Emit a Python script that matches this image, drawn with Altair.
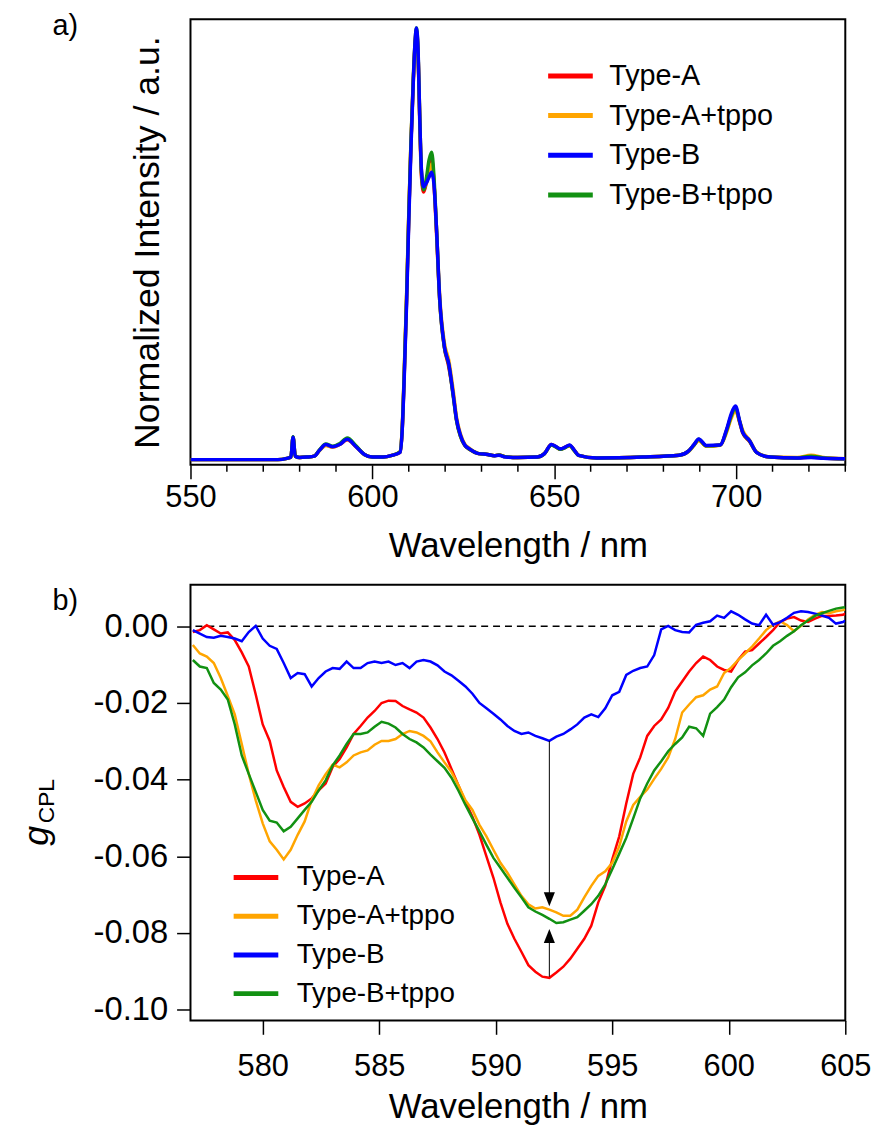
import altair as alt
import pandas as pd

FONT = "Liberation Sans"
series = ["Type-A", "Type-A+tppo", "Type-B", "Type-B+tppo"]
colors = ["#FF0000", "#FFA500", "#0000FF", "#129112"]

# ---------------- panel a: normalized PL spectra ----------------
wl_a = [550, 574, 576.5, 577.6, 578.2, 578.8, 580.0, 582.0, 584.0, 585.5,
        587.2, 589.1, 591.0, 593.1, 595.5, 597.8, 600.0, 603.0, 605.4, 607.6,
        608.2, 608.7, 609.4, 610.0, 610.6, 611.25, 611.75, 612.1, 612.6, 613.0,
        613.5, 614.1, 614.8, 615.6, 616.3, 616.9, 617.6, 618.5, 619.8, 621.0,
        622.3, 623.1, 624.2, 625.4, 626.7, 629.2, 631.7, 633.5, 634.8, 636.5,
        640.0, 645.4, 647.3, 649.2, 650.5, 651.7, 653.0, 654.2, 655.5, 656.7,
        661.7, 674.3, 684.3, 686.8, 688.5, 689.7, 691.8, 695.6, 697.4, 698.6,
        699.8, 701.0, 701.8, 703.7, 705.6, 709.3, 716.8, 720.6, 724.0, 730.0]
int_A = [0.0, 0.0, 0.003, 0.006, 0.052, 0.008, 0.005, 0.006, 0.008, 0.022,
         0.034, 0.029, 0.035, 0.046, 0.030, 0.012, 0.006, 0.006, 0.010, 0.017,
         0.07, 0.18, 0.37, 0.56, 0.73, 0.88, 0.965, 0.995, 0.93, 0.79,
         0.655, 0.62, 0.64, 0.68, 0.697, 0.645, 0.53, 0.37, 0.26, 0.215,
         0.146, 0.093, 0.055, 0.033, 0.024, 0.014, 0.012, 0.009, 0.011, 0.007,
         0.005, 0.006, 0.014, 0.035, 0.030, 0.024, 0.029, 0.033, 0.022, 0.010,
         0.004, 0.006, 0.010, 0.019, 0.035, 0.046, 0.032, 0.034, 0.068, 0.100,
         0.118, 0.085, 0.062, 0.042, 0.017, 0.006, 0.004, 0.006, 0.004, 0.002]
int_A_tppo = [0.0, 0.0, 0.003, 0.006, 0.050, 0.008, 0.005, 0.006, 0.008, 0.021,
              0.033, 0.029, 0.036, 0.047, 0.031, 0.012, 0.006, 0.006, 0.010, 0.019,
              0.075, 0.19, 0.38, 0.57, 0.735, 0.875, 0.96, 0.99, 0.93, 0.80,
              0.665, 0.63, 0.64, 0.67, 0.685, 0.645, 0.54, 0.38, 0.27, 0.23,
              0.155, 0.10, 0.060, 0.036, 0.026, 0.014, 0.012, 0.009, 0.011, 0.007,
              0.005, 0.006, 0.014, 0.034, 0.029, 0.024, 0.028, 0.032, 0.021, 0.010,
              0.004, 0.006, 0.010, 0.018, 0.034, 0.044, 0.031, 0.033, 0.064, 0.095,
              0.113, 0.088, 0.068, 0.045, 0.018, 0.006, 0.005, 0.010, 0.005, 0.002]
int_B = [0.0, 0.0, 0.003, 0.006, 0.052, 0.008, 0.005, 0.006, 0.008, 0.022,
         0.035, 0.030, 0.035, 0.047, 0.030, 0.012, 0.006, 0.006, 0.010, 0.017,
         0.068, 0.175, 0.36, 0.55, 0.72, 0.875, 0.97, 1.0, 0.94, 0.80,
         0.67, 0.632, 0.64, 0.655, 0.666, 0.64, 0.54, 0.375, 0.262, 0.222,
         0.146, 0.095, 0.057, 0.034, 0.025, 0.014, 0.012, 0.009, 0.010, 0.006,
         0.005, 0.006, 0.014, 0.035, 0.030, 0.025, 0.029, 0.034, 0.022, 0.010,
         0.004, 0.006, 0.010, 0.019, 0.036, 0.048, 0.033, 0.034, 0.071, 0.105,
         0.124, 0.088, 0.063, 0.044, 0.017, 0.006, 0.004, 0.005, 0.003, 0.002]
int_B_tppo = [0.0, 0.0, 0.003, 0.006, 0.053, 0.008, 0.005, 0.006, 0.008, 0.023,
              0.036, 0.031, 0.037, 0.050, 0.032, 0.012, 0.006, 0.006, 0.010, 0.018,
              0.072, 0.185, 0.375, 0.565, 0.735, 0.885, 0.97, 1.0, 0.935, 0.80,
              0.665, 0.625, 0.65, 0.695, 0.712, 0.66, 0.54, 0.37, 0.26, 0.22,
              0.142, 0.092, 0.054, 0.033, 0.024, 0.014, 0.012, 0.009, 0.011, 0.007,
              0.005, 0.006, 0.014, 0.034, 0.029, 0.024, 0.028, 0.033, 0.021, 0.010,
              0.004, 0.006, 0.010, 0.019, 0.035, 0.047, 0.032, 0.034, 0.068, 0.100,
              0.120, 0.087, 0.064, 0.043, 0.017, 0.006, 0.004, 0.008, 0.004, 0.002]
major_ticks_a = [550, 600, 650, 700]
minor_ticks_a = [560, 570, 580, 590, 610, 620, 630, 640, 660, 670, 680, 690, 710, 720, 730]

# ---------------- panel b: g_CPL ----------------
wl_b = [577.0, 577.3, 577.6, 577.9, 578.2, 578.5, 578.8, 579.1, 579.4, 579.7,
        580.0, 580.3, 580.6, 580.9, 581.2, 581.5, 581.8, 582.1, 582.4, 582.7,
        583.0, 583.3, 583.6, 583.9, 584.2, 584.5, 584.8, 585.1, 585.4, 585.7,
        586.0, 586.3, 586.6, 586.9, 587.2, 587.5, 587.8, 588.1, 588.4, 588.7,
        589.0, 589.3, 589.6, 589.9, 590.2, 590.5, 590.8, 591.1, 591.4, 591.7,
        592.0, 592.3, 592.6, 592.9, 593.2, 593.5, 593.8, 594.1, 594.4, 594.7,
        595.0, 595.3, 595.6, 595.9, 596.2, 596.5, 596.8, 597.1, 597.4, 597.7,
        598.0, 598.3, 598.6, 598.9, 599.2, 599.5, 599.8, 600.1, 600.4, 600.7,
        601.0, 601.3, 601.6, 601.9, 602.2, 602.5, 602.8, 603.1, 603.4, 603.7,
        604.0, 604.3, 604.6, 604.9, 605.0]
g_A = [-0.0015, -0.0010, 0.0003, -0.0008, -0.0019, -0.0016, -0.0036, -0.0068, -0.0105, -0.0178,
       -0.0256, -0.0299, -0.0376, -0.0419, -0.0458, -0.0471, -0.0462, -0.0449, -0.0428, -0.0410,
       -0.0367, -0.0346, -0.0316, -0.0281, -0.0260, -0.0238, -0.0221, -0.0200, -0.0194, -0.0195,
       -0.0208, -0.0217, -0.0225, -0.0238, -0.0264, -0.0294, -0.0329, -0.0372, -0.0415, -0.0458,
       -0.0497, -0.0544, -0.0600, -0.0656, -0.0720, -0.0776, -0.0815, -0.0849, -0.0884, -0.0901,
       -0.0914, -0.0917, -0.0903, -0.0888, -0.0867, -0.0841, -0.0815, -0.0781, -0.0720, -0.0677,
       -0.0608, -0.0548, -0.0462, -0.0385, -0.0342, -0.0286, -0.0260, -0.0243, -0.0213, -0.0170,
       -0.0144, -0.0118, -0.0096, -0.0079, -0.0088, -0.0105, -0.0114, -0.0118, -0.0088, -0.0066,
       -0.0062, -0.0045, -0.0028, -0.0010, 0.0011, 0.0020, 0.0024, 0.0015, 0.0011, 0.0020,
       0.0027, 0.0027, 0.0028, 0.0030, 0.0033]
g_A_tppo = [-0.0049, -0.0071, -0.0079, -0.0096, -0.0135, -0.0182, -0.0230, -0.0307, -0.0385, -0.0454,
            -0.0514, -0.0561, -0.0583, -0.0608, -0.0583, -0.0544, -0.0509, -0.0454, -0.0415, -0.0386,
            -0.0361, -0.0368, -0.0355, -0.0337, -0.0329, -0.0324, -0.0309, -0.0299, -0.0299, -0.0294,
            -0.0281, -0.0273, -0.0277, -0.0286, -0.0300, -0.0329, -0.0355, -0.0380, -0.0415, -0.0454,
            -0.0479, -0.0518, -0.0548, -0.0583, -0.0617, -0.0643, -0.0673, -0.0703, -0.0725, -0.0736,
            -0.0733, -0.0739, -0.0746, -0.0755, -0.0755, -0.0739, -0.0707, -0.0677, -0.0651, -0.0639,
            -0.0617, -0.0574, -0.0509, -0.0466, -0.0445, -0.0426, -0.0398, -0.0372, -0.0342, -0.0294,
            -0.0225, -0.0204, -0.0185, -0.0180, -0.0165, -0.0157, -0.0122, -0.0108, -0.0088, -0.0071,
            -0.0053, -0.0032, -0.0010, 0.0004, 0.0013, 0.0003, -0.0013, 0.0001, 0.0018, 0.0030,
            0.0037, 0.0034, 0.0039, 0.0042, 0.0044]
g_B = [-0.0010, -0.0019, -0.0028, -0.0030, -0.0025, -0.0028, -0.0032, -0.0039, -0.0015, 0.0001,
       -0.0032, -0.0051, -0.0059, -0.0096, -0.0135, -0.0122, -0.0125, -0.0157, -0.0135, -0.0118,
       -0.0109, -0.0111, -0.0092, -0.0109, -0.0109, -0.0096, -0.0092, -0.0096, -0.0092, -0.0101,
       -0.0096, -0.0109, -0.0092, -0.0088, -0.0092, -0.0102, -0.0118, -0.0128, -0.0142, -0.0157,
       -0.0176, -0.0200, -0.0214, -0.0228, -0.0243, -0.0260, -0.0273, -0.0281, -0.0277, -0.0286,
       -0.0292, -0.0299, -0.0288, -0.0281, -0.0269, -0.0256, -0.0238, -0.0230, -0.0237, -0.0214,
       -0.0180, -0.0171, -0.0127, -0.0116, -0.0109, -0.0105, -0.0075, -0.0008, 0.0001, -0.0010,
       -0.0015, -0.0016, 0.0004, 0.0009, 0.0013, 0.0028, 0.0022, 0.0039, 0.0030, 0.0018,
       0.0007, 0.0003, 0.0030, 0.0004, 0.0011, 0.0022, 0.0035, 0.0039, 0.0037, 0.0033,
       0.0028, 0.0022, 0.0007, 0.0011, 0.0015]
g_B_tppo = [-0.0088, -0.0105, -0.0109, -0.0148, -0.0165, -0.0191, -0.0256, -0.0337, -0.0385, -0.0432,
            -0.0479, -0.0507, -0.0512, -0.0535, -0.0523, -0.0501, -0.0479, -0.0458, -0.0428, -0.0402,
            -0.0363, -0.0337, -0.0307, -0.0281, -0.0281, -0.0277, -0.0262, -0.0249, -0.0254, -0.0264,
            -0.0281, -0.0294, -0.0303, -0.0316, -0.0335, -0.0352, -0.0369, -0.0395, -0.0429, -0.0466,
            -0.0501, -0.0535, -0.0570, -0.0604, -0.0630, -0.0656, -0.0682, -0.0707, -0.0733, -0.0744,
            -0.0753, -0.0763, -0.0774, -0.0772, -0.0765, -0.0759, -0.0742, -0.0725, -0.0703, -0.0673,
            -0.0634, -0.0593, -0.0552, -0.0501, -0.0449, -0.0410, -0.0376, -0.0352, -0.0326, -0.0307,
            -0.0290, -0.0262, -0.0266, -0.0286, -0.0228, -0.0211, -0.0191, -0.0159, -0.0133, -0.0120,
            -0.0102, -0.0088, -0.0071, -0.0051, -0.0039, -0.0025, -0.0013, 0.0003, 0.0015, 0.0027,
            0.0034, 0.0040, 0.0046, 0.0049, 0.0050]
major_ticks_b = [580, 585, 590, 595, 600, 605]
y_ticks_b = [0.0, -0.02, -0.04, -0.06, -0.08, -0.10]
zero_line = [0.0]
# arrows between the Type-B / Type-A minima and the tppo curves
arrow_x = [592.3]
arrow_down = [-0.0299, -0.0712]
arrow_up = [-0.0914, -0.0808]

# ---------------- build ----------------
WA, HA = 660, 449
WB, HB = 660, 439

color_scale = alt.Scale(domain=series, range=colors)


def long_df(xs, ys_list, xname, yname):
    rows = []
    for name, ys in zip(series, ys_list):
        for x, y in zip(xs, ys):
            rows.append({xname: x, yname: y, "series": name})
    return pd.DataFrame(rows)


df_a = long_df(wl_a, [int_A, int_A_tppo, int_B, int_B_tppo], "wl", "I")
df_b = long_df(wl_b, [g_A, g_A_tppo, g_B, g_B_tppo], "wl", "g")

# ----- panel a -----
xa = alt.X("wl:Q", scale=alt.Scale(domain=[550, 730], nice=False, zero=False),
           axis=alt.Axis(values=major_ticks_a, tickSize=14, tickWidth=1.5, tickColor="black",
                         labelFontSize=31, labelPadding=4, labelFont=FONT, labelColor="black",
                         title="Wavelength / nm", titleFontSize=35, titleFont=FONT,
                         titleFontWeight="normal", titleColor="black", titlePadding=16,
                         domain=False, grid=False, labelFlush=False))
ya = alt.Y("I:Q", scale=alt.Scale(domain=[-0.012, 1.02], nice=False, zero=False),
           axis=alt.Axis(labels=False, ticks=False, domain=False, grid=False,
                         title="Normalized Intensity / a.u.", titleFontSize=36, titleFont=FONT,
                         titleFontWeight="normal", titleColor="black", titlePadding=24))
legend_a = alt.Legend(orient="none", legendX=358, legendY=32, symbolType="stroke",
                      symbolStrokeWidth=5, symbolSize=2025, labelFontSize=29, labelFont=FONT,
                      labelColor="black", labelOffset=14, rowPadding=0, padding=0, labelLimit=400)

draw_order_a = ["Type-A", "Type-A+tppo", "Type-B+tppo", "Type-B"]
layers_a = []
for name in draw_order_a:
    layers_a.append(
        alt.Chart(df_a[df_a.series == name]).mark_line(
            strokeWidth=3.5, clip=True, interpolate="monotone").encode(
            x=xa, y=ya,
            color=alt.Color("series:N", scale=color_scale, legend=legend_a, title=None)))

minor_a = alt.Chart(pd.DataFrame({"wl": minor_ticks_a})).mark_rule(
    color="black", strokeWidth=1.5).encode(x=xa, y=alt.value(HA), y2=alt.value(HA + 7))
label_a = alt.Chart(pd.DataFrame({"t": ["a)"]})).mark_text(
    text="a)", font=FONT, fontSize=29, align="left", baseline="middle", color="black").encode(
    x=alt.value(-139), y=alt.value(7))
anchor = alt.Chart(pd.DataFrame({"t": [0]})).mark_rule(color="white", strokeWidth=1).encode(
    x=alt.value(-190), x2=alt.value(-189), y=alt.value(-13), y2=alt.value(-12))

panel_a = alt.layer(*layers_a, minor_a, label_a, anchor).properties(width=WA, height=HA)

# ----- panel b -----
xb = alt.X("wl:Q", scale=alt.Scale(domain=[576.9, 605], nice=False, zero=False),
           axis=alt.Axis(values=major_ticks_b, tickSize=14, tickWidth=1.5, tickColor="black",
                         labelFontSize=31, labelPadding=18, labelFont=FONT, labelColor="black",
                         title="Wavelength / nm", titleFontSize=35, titleFont=FONT,
                         titleFontWeight="normal", titleColor="black", titlePadding=8,
                         domain=False, grid=False, labelFlush=False))
yb = alt.Y("g:Q", scale=alt.Scale(domain=[-0.1028, 0.0108], nice=False, zero=False),
           axis=alt.Axis(values=y_ticks_b, tickSize=14, tickWidth=1.5, tickColor="black",
                         labelFontSize=33, labelPadding=9, labelFont=FONT, labelColor="black",
                         labelExpr="datum.value < -0.00001 ? '-' + format(-datum.value, '.2f') : format(0, '.2f')",
                         title="", domain=False, grid=False, labelFlush=False))
legend_b = alt.Legend(orient="none", legendX=41, legendY=270, symbolType="stroke",
                      symbolStrokeWidth=5, symbolSize=2025, labelFontSize=28, labelFont=FONT,
                      labelColor="black", labelOffset=16, rowPadding=0, padding=0, labelLimit=400)

zero_b = alt.Chart(pd.DataFrame({"g": zero_line})).mark_rule(
    color="black", strokeWidth=1.5, strokeDash=[7, 5]).encode(y=yb)

draw_order_b = ["Type-A", "Type-A+tppo", "Type-B", "Type-B+tppo"]
layers_b = []
for name in draw_order_b:
    layers_b.append(
        alt.Chart(df_b[df_b.series == name]).mark_line(strokeWidth=2.5, clip=True).encode(
            x=xb, y=yb,
            color=alt.Color("series:N", scale=color_scale, legend=legend_b, title=None)))

arrows_df = pd.DataFrame({"wl": arrow_x * 2, "g": [arrow_down[0], arrow_up[0]],
                          "g2": [arrow_down[1], arrow_up[1]]})
arrow_lines = alt.Chart(arrows_df).mark_rule(color="black", strokeWidth=1).encode(
    x=xb, y=yb, y2="g2:Q")
head_down = alt.Chart(pd.DataFrame({"wl": arrow_x, "g": [arrow_down[1]]})).mark_point(
    shape="M-0.8,-1L0.8,-1L0,1Z", filled=True, size=196, color="black", opacity=1,
    strokeWidth=0).encode(x=xb, y=yb)
head_up = alt.Chart(pd.DataFrame({"wl": arrow_x, "g": [arrow_up[1]]})).mark_point(
    shape="M-0.8,1L0.8,1L0,-1Z", filled=True, size=196, color="black", opacity=1,
    strokeWidth=0).encode(x=xb, y=yb)

label_b = alt.Chart(pd.DataFrame({"t": ["b)"]})).mark_text(
    text="b)", font=FONT, fontSize=29, align="left", baseline="middle", color="black").encode(
    x=alt.value(-139), y=alt.value(16))
g_main = alt.Chart(pd.DataFrame({"t": ["g"]})).mark_text(
    text="g", font=FONT, fontSize=36, fontStyle="italic", angle=270, align="center",
    baseline="middle", color="black").encode(x=alt.value(-155), y=alt.value(253))
g_sub = alt.Chart(pd.DataFrame({"t": ["CPL"]})).mark_text(
    text="CPL", font=FONT, fontSize=23, angle=270, align="center",
    baseline="middle", color="black").encode(x=alt.value(-145), y=alt.value(218))

panel_b = alt.layer(zero_b, *layers_b, arrow_lines, head_down, head_up,
                    label_b, g_main, g_sub).properties(width=WB, height=HB)

chart = alt.vconcat(panel_a, panel_b, spacing=121, bounds="flush").resolve_scale(
    color="independent", x="independent", y="independent"
).properties(padding={"left": 0, "top": 0, "right": 10, "bottom": 5}).configure_view(
    stroke="black", strokeWidth=2
)

chart.save("out.html", embed_options={"renderer": "svg", "actions": False})
